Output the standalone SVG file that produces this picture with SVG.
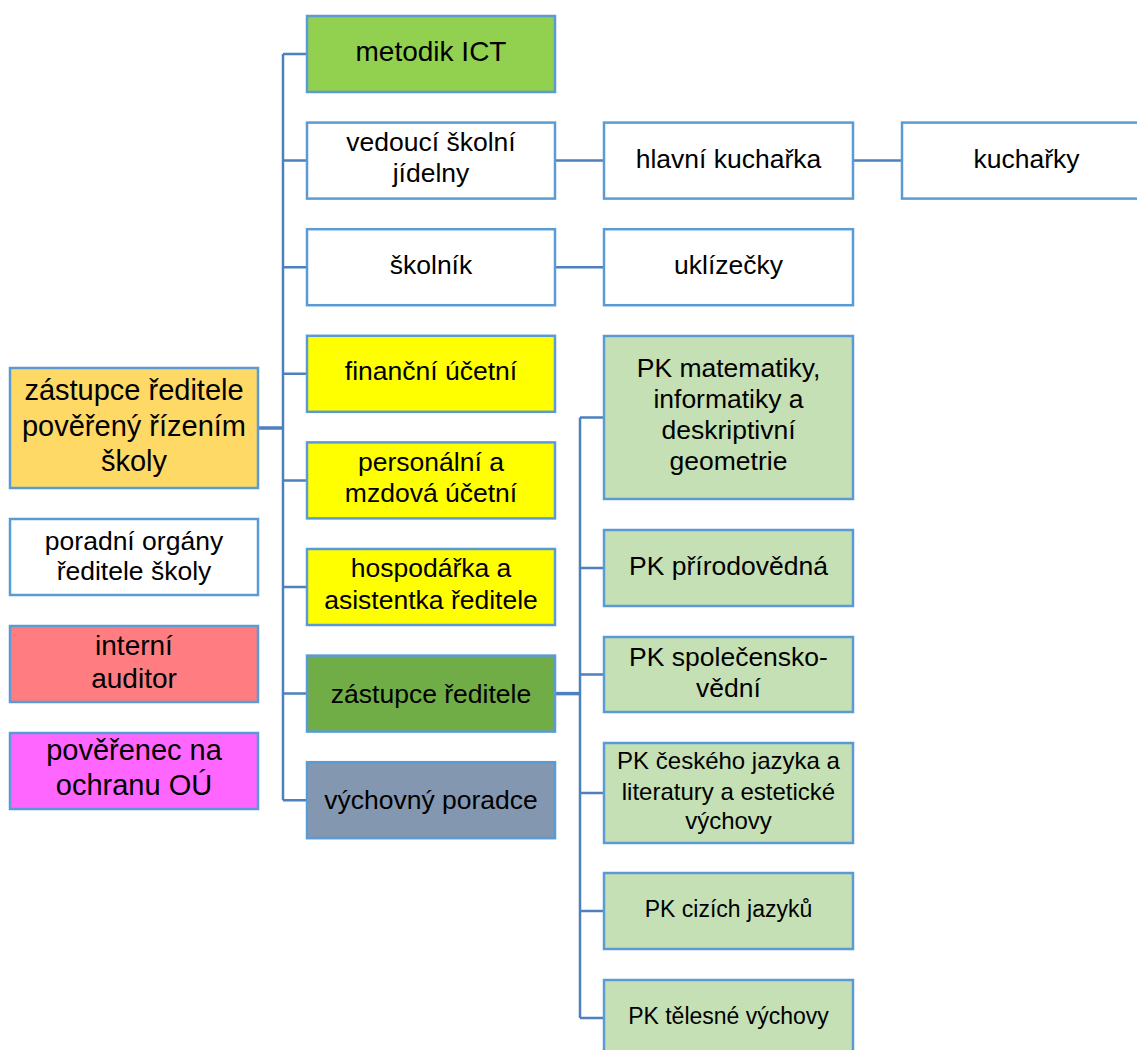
<svg xmlns="http://www.w3.org/2000/svg" width="1137" height="1050" viewBox="0 0 1137 1050">
<style>
rect.b{stroke:#5B9BD5;stroke-width:2.5}
text{font-family:"Liberation Sans",Arial,sans-serif;font-size:26.5px;fill:#000;text-anchor:middle}
.big{font-size:29px}
.sm{font-size:24px}
.xs{font-size:23px}
#connectors path{fill:none;stroke:#4D80BD;stroke-width:2.5}
</style>
<rect width="1137" height="1050" fill="#fff"/>
<g id="connectors">
<path d="M283 54V800.2"/>
<path d="M258 428H283" style="stroke-width:3.5"/>
<path d="M283 54H307M283 160.6H307M283 267.2H307M283 373.8H307M283 480.4H307M283 587H307M283 693.6H307M283 800.2H307"/>
<path d="M555 160.6H604M853 160.6H902M555 267.2H604"/>
<path d="M555 693.6H580" style="stroke-width:3.5"/>
<path d="M580 417.5V1018"/>
<path d="M580 417.5H604M580 568H604M580 674.5H604M580 793H604M580 911H604M580 1018H604"/>
</g>
<g id="n-root"><rect class="b" x="10" y="368" width="248" height="120" fill="#FFD966"/>
<text class="big"><tspan x="134" y="400">zástupce ředitele</tspan><tspan x="134" y="436">pověřený řízením</tspan><tspan x="134" y="471">školy</tspan></text></g>
<g id="n-poradni"><rect class="b" x="10" y="519" width="248" height="76" fill="#fff"/>
<text><tspan x="134" y="550">poradní orgány</tspan><tspan x="134" y="580">ředitele školy</tspan></text></g>
<g id="n-auditor"><rect class="b" x="10" y="626" width="248" height="76" fill="#FF7C80"/>
<text style="font-size:28px"><tspan x="134" y="655">interní</tspan><tspan x="134" y="688">auditor</tspan></text></g>
<g id="n-poverenec"><rect class="b" x="10" y="733" width="248" height="76" fill="#FF66FF"/>
<text class="big"><tspan x="134" y="760">pověřenec na</tspan><tspan x="134" y="795">ochranu OÚ</tspan></text></g>

<g id="n-metodik"><rect class="b" x="307" y="16" width="248" height="76" fill="#92D050"/>
<text x="431" y="61" style="font-size:28px">metodik ICT</text></g>
<g id="n-vedouci"><rect class="b" x="307" y="122.6" width="248" height="76" fill="#fff"/>
<text><tspan x="431" y="151">vedoucí školní</tspan><tspan x="431" y="182">jídelny</tspan></text></g>
<g id="n-skolnik"><rect class="b" x="307" y="229.2" width="248" height="76" fill="#fff"/>
<text x="431" y="274">školník</text></g>
<g id="n-financni"><rect class="b" x="307" y="335.8" width="248" height="76" fill="#FFFF00"/>
<text x="431" y="380">finanční účetní</text></g>
<g id="n-personalni"><rect class="b" x="307" y="442.4" width="248" height="76" fill="#FFFF00"/>
<text><tspan x="431" y="471">personální a</tspan><tspan x="431" y="502">mzdová účetní</tspan></text></g>
<g id="n-hospodarka"><rect class="b" x="307" y="549" width="248" height="76" fill="#FFFF00"/>
<text><tspan x="431" y="577">hospodářka a</tspan><tspan x="431" y="609">asistentka ředitele</tspan></text></g>
<g id="n-zastupce"><rect class="b" x="307" y="655.6" width="248" height="76" fill="#70AD47"/>
<text x="431" y="703">zástupce ředitele</text></g>
<g id="n-vychovny"><rect class="b" x="307" y="762.2" width="248" height="76" fill="#8497B0"/>
<text x="431" y="809">výchovný poradce</text></g>

<g id="n-hlavni"><rect class="b" x="604" y="122.6" width="249" height="76" fill="#fff"/>
<text x="728.5" y="168">hlavní kuchařka</text></g>
<g id="n-kucharky"><rect class="b" x="902" y="122.6" width="249" height="76" fill="#fff"/>
<text x="1026.5" y="168">kuchařky</text></g>
<g id="n-uklizecky"><rect class="b" x="604" y="229.2" width="249" height="76" fill="#fff"/>
<text x="728.5" y="274">uklízečky</text></g>

<g id="n-pk-mat"><rect class="b" x="604" y="336" width="249" height="163" fill="#C5E0B4"/>
<text><tspan x="728.5" y="377">PK matematiky,</tspan><tspan x="728.5" y="408">informatiky a</tspan><tspan x="728.5" y="439">deskriptivní</tspan><tspan x="728.5" y="470">geometrie</tspan></text></g>
<g id="n-pk-prir"><rect class="b" x="604" y="530" width="249" height="76" fill="#C5E0B4"/>
<text x="728.5" y="575">PK přírodovědná</text></g>
<g id="n-pk-spol"><rect class="b" x="604" y="637" width="249" height="75" fill="#C5E0B4"/>
<text><tspan x="728.5" y="666">PK společensko-</tspan><tspan x="728.5" y="697">vědní</tspan></text></g>
<g id="n-pk-cj"><rect class="b" x="604" y="743" width="249" height="100" fill="#C5E0B4"/>
<text class="sm"><tspan x="728.5" y="769">PK českého jazyka a</tspan><tspan x="728.5" y="800">literatury a estetické</tspan><tspan x="728.5" y="829">výchovy</tspan></text></g>
<g id="n-pk-ciz"><rect class="b" x="604" y="873" width="249" height="76" fill="#C5E0B4"/>
<text class="xs" x="728.5" y="917">PK cizích jazyků</text></g>
<g id="n-pk-tel"><rect class="b" x="604" y="980" width="249" height="76" fill="#C5E0B4"/>
<text class="xs" x="728.5" y="1024">PK tělesné výchovy</text></g>
</svg>
